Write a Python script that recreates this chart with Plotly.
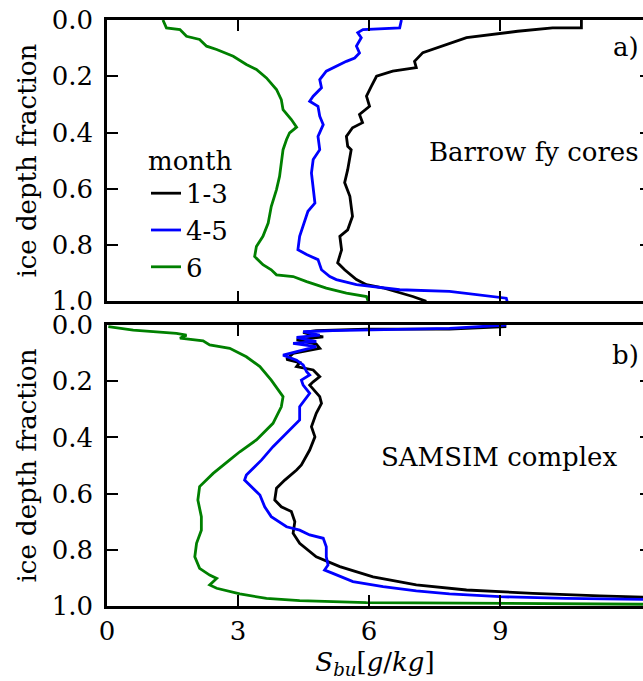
import plotly.graph_objects as go

# ---- panel a) Barrow first-year ice cores: bulk salinity vs. ice depth fraction ----
a_13_s = [10.86, 10.86, 10.20, 9.40, 8.23, 7.68, 7.23, 7.04, 7.08, 6.54, 6.17, 6.05, 5.94, 6.01,
          5.78, 5.85, 5.62, 5.48, 5.51, 5.59, 5.51, 5.44, 5.56, 5.62, 5.51, 5.33, 5.37, 5.28,
          5.44, 5.71, 5.94, 6.31, 6.69, 7.00, 7.31]
a_13_d = [0.000, 0.028, 0.028, 0.040, 0.063, 0.093, 0.116, 0.147, 0.169, 0.182, 0.200, 0.236,
          0.271, 0.307, 0.336, 0.365, 0.383, 0.414, 0.449, 0.461, 0.532, 0.578, 0.627, 0.698,
          0.746, 0.769, 0.817, 0.863, 0.888, 0.923, 0.941, 0.952, 0.969, 0.983, 1.000]

a_45_s = [6.74, 6.70, 5.86, 5.74, 5.82, 5.71, 5.78, 5.67, 5.48, 5.17, 5.02, 4.87, 4.91, 4.72,
          4.64, 4.83, 4.87, 4.95, 4.83, 4.87, 4.72, 4.68, 4.72, 4.76, 4.60, 4.49, 4.41, 4.37,
          4.57, 4.83, 4.91, 5.10, 5.25, 5.71, 6.70, 7.84, 8.61, 9.14, 9.16]
a_45_d = [0.000, 0.028, 0.034, 0.045, 0.063, 0.093, 0.117, 0.135, 0.147, 0.170, 0.182, 0.212,
          0.241, 0.271, 0.289, 0.307, 0.342, 0.372, 0.414, 0.461, 0.496, 0.544, 0.603, 0.651,
          0.680, 0.734, 0.769, 0.817, 0.834, 0.852, 0.888, 0.912, 0.923, 0.941, 0.959, 0.965,
          0.980, 0.989, 1.000]

a_6_s = [1.28, 1.36, 1.67, 1.82, 2.12, 2.28, 2.51, 2.89, 3.19, 3.42, 3.65, 3.88, 3.99, 4.03,
         4.22, 4.34, 4.18, 4.11, 4.03, 3.99, 3.95, 3.88, 3.76, 3.69, 3.57, 3.42, 3.38, 3.57,
         3.76, 3.88, 4.26, 4.57, 5.02, 5.48, 5.94, 5.98]
a_6_d = [0.000, 0.028, 0.034, 0.058, 0.069, 0.093, 0.105, 0.129, 0.158, 0.176, 0.206, 0.247,
         0.283, 0.319, 0.354, 0.381, 0.401, 0.425, 0.461, 0.508, 0.556, 0.603, 0.663, 0.722,
         0.769, 0.805, 0.841, 0.870, 0.888, 0.906, 0.912, 0.930, 0.953, 0.971, 0.983, 1.000]

# ---- panel b) SAMSIM complex model run ----
b_13_s = [9.14, 7.84, 5.94, 4.79, 4.49, 4.72, 4.95, 4.34, 4.79, 4.87, 4.26, 4.11, 4.41, 4.34,
          4.72, 4.87, 4.72, 4.64, 4.87, 4.91, 4.79, 4.68, 4.76, 4.64, 4.45, 4.34, 4.07, 3.88,
          3.84, 3.99, 4.22, 4.30, 4.26, 4.41, 4.79, 5.33, 6.09, 7.08, 8.23, 9.75, 11.28, 11.77,
          12.50]
b_13_d = [0.006, 0.015, 0.015, 0.020, 0.026, 0.036, 0.042, 0.053, 0.068, 0.083, 0.101, 0.122,
          0.134, 0.148, 0.160, 0.184, 0.202, 0.214, 0.255, 0.279, 0.314, 0.362, 0.398, 0.445,
          0.498, 0.516, 0.552, 0.581, 0.623, 0.647, 0.664, 0.700, 0.741, 0.777, 0.825, 0.860,
          0.896, 0.925, 0.943, 0.955, 0.964, 0.967, 0.969]

b_45_s = [9.14, 7.84, 5.17, 4.49, 4.87, 4.34, 4.79, 4.26, 4.79, 4.03, 4.34, 4.49, 4.57, 4.64,
          4.45, 4.49, 4.64, 4.41, 4.41, 4.11, 3.80, 3.54, 3.19, 3.15, 3.31, 3.50, 3.61, 3.76,
          4.11, 4.41, 4.64, 4.95, 5.02, 5.02, 5.06, 4.98, 5.17, 5.63, 6.32, 7.08, 7.84, 8.99,
          10.51, 11.73, 12.50]
b_45_d = [0.000, 0.012, 0.020, 0.024, 0.036, 0.044, 0.059, 0.065, 0.077, 0.107, 0.125, 0.142,
          0.166, 0.178, 0.196, 0.214, 0.243, 0.291, 0.338, 0.385, 0.433, 0.480, 0.534, 0.552,
          0.575, 0.605, 0.647, 0.682, 0.718, 0.730, 0.747, 0.759, 0.789, 0.825, 0.854, 0.872,
          0.884, 0.913, 0.931, 0.946, 0.957, 0.967, 0.973, 0.976, 0.977]

b_6_s = [0.03, 0.60, 1.59, 1.82, 1.67, 2.20, 2.35, 2.81, 3.19, 3.50, 3.76, 3.95, 4.03, 3.99,
         3.80, 3.42, 3.04, 2.81, 2.43, 2.12, 2.08, 2.16, 2.16, 2.05, 2.01, 2.12, 2.35, 2.51,
         2.35, 2.51, 3.04, 3.65, 4.41, 5.94, 8.99, 11.73, 12.50]
b_6_d = [0.006, 0.018, 0.030, 0.036, 0.047, 0.056, 0.071, 0.083, 0.113, 0.148, 0.196, 0.237,
         0.255, 0.291, 0.350, 0.409, 0.451, 0.480, 0.528, 0.575, 0.623, 0.682, 0.730, 0.777,
         0.825, 0.866, 0.890, 0.902, 0.925, 0.937, 0.957, 0.973, 0.981, 0.988, 0.990, 0.993,
         0.994]

months = ["1-3", "4-5", "6"]
colors = ["black", "#0000ff", "#008000"]
panel_a = [(a_13_s, a_13_d), (a_45_s, a_45_d), (a_6_s, a_6_d)]
panel_b = [(b_13_s, b_13_d), (b_45_s, b_45_d), (b_6_s, b_6_d)]

x_ticks = [0, 3, 6, 9]
y_ticks = [0.0, 0.2, 0.4, 0.6, 0.8, 1.0]
x_max = 12.27

FONT = "DejaVu Serif"
FS = 26
LW = 2.8

fig = go.Figure()
for name, col, (s, d) in zip(months, colors, panel_a):
    fig.add_trace(go.Scatter(x=s, y=d, mode="lines", name=name,
                             line=dict(color=col, width=LW),
                             xaxis="x", yaxis="y", legendgroup=name))
for name, col, (s, d) in zip(months, colors, panel_b):
    fig.add_trace(go.Scatter(x=s, y=d, mode="lines", name=name, showlegend=False,
                             line=dict(color=col, width=LW),
                             xaxis="x2", yaxis="y2", legendgroup=name))

# empty traces so the right-hand tick axes are drawn
fig.add_trace(go.Scatter(x=[], y=[], xaxis="x", yaxis="y3", showlegend=False))
fig.add_trace(go.Scatter(x=[], y=[], xaxis="x2", yaxis="y4", showlegend=False))

common_x = dict(range=[0, x_max], tickvals=x_ticks, ticks="inside", ticklen=11, tickwidth=1.5,
                showline=True, linewidth=2.5, linecolor="black", mirror="ticks",
                showgrid=False, zeroline=False, tickcolor="black",
                tickfont=dict(family=FONT, size=FS, color="black"))
common_y = dict(range=[1, 0], tickvals=y_ticks, tickformat=".1f", ticks="inside", ticklen=11,
                tickwidth=1.5, showline=True, linewidth=2.5, linecolor="black", mirror=False,
                showgrid=False, zeroline=False, tickcolor="black",
                tickfont=dict(family=FONT, size=FS, color="black"),
                ticklabelstandoff=6,
                title=dict(text="ice depth fraction", standoff=8,
                           font=dict(family=FONT, size=FS, color="black")))
right_y = dict(range=[1, 0], tickvals=y_ticks, ticks="inside", ticklen=3, tickwidth=1.5,
               showticklabels=False, showline=False, showgrid=False, zeroline=False,
               side="right", tickcolor="black")

fig.update_layout(
    width=643, height=681,
    margin=dict(l=107, r=0, t=20, b=75),
    paper_bgcolor="white", plot_bgcolor="white",
    xaxis=dict(common_x, anchor="y", showticklabels=False),
    yaxis=dict(common_y, domain=[0.52, 1.0], anchor="x"),
    xaxis2=dict(common_x, anchor="y2", ticklabelstandoff=0,
                title=dict(text="<i>S</i><sub><i>bu</i></sub>[<i>g</i>/<i>kg</i>]", standoff=8,
                           font=dict(family=FONT, size=FS, color="black"))),
    yaxis2=dict(common_y, domain=[0.0, 0.4795], anchor="x2"),
    yaxis3=dict(right_y, overlaying="y", anchor="x"),
    yaxis4=dict(right_y, overlaying="y2", anchor="x2"),
    showlegend=True,
    legend=dict(x=(146 - 107) / 536, y=(606 - 136) / 586, xanchor="left", yanchor="top",
                bgcolor="rgba(0,0,0,0)", borderwidth=0, tracegroupgap=0,
                font=dict(family=FONT, size=FS, color="black"),
                title=dict(text="month", side="top", font=dict(family=FONT, size=FS, color="black"))),
    annotations=[
        dict(text="a)", xref="paper", yref="paper", x=0.996, y=(606 - 47) / 586,
             xanchor="right", yanchor="middle", showarrow=False,
             font=dict(family=FONT, size=FS, color="black")),
        dict(text="Barrow fy cores", xref="paper", yref="paper", x=0.996, y=(606 - 152) / 586,
             xanchor="right", yanchor="middle", showarrow=False,
             font=dict(family=FONT, size=FS, color="black")),
        dict(text="b)", xref="paper", yref="paper", x=0.996, y=(606 - 355) / 586,
             xanchor="right", yanchor="middle", showarrow=False,
             font=dict(family=FONT, size=FS, color="black")),
        dict(text="SAMSIM complex", xref="paper", yref="paper", x=0.955, y=(606 - 457) / 586,
             xanchor="right", yanchor="middle", showarrow=False,
             font=dict(family=FONT, size=FS, color="black")),
    ],
)

fig.write_html("out.html")
